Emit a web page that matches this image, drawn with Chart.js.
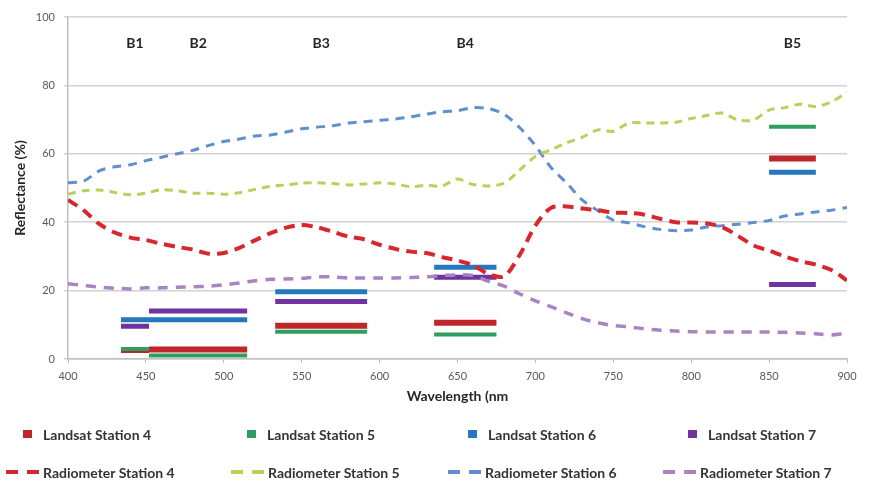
<!DOCTYPE html>
<html>
<head>
<meta charset="utf-8">
<script src="https://cdn.jsdelivr.net/npm/chart.js@4"></script>
<style>
  html, body { margin: 0; padding: 0; background: #ffffff; }
  #wrap { position: relative; width: 874px; height: 483px; overflow: hidden; }
  #chart { position: absolute; left: 0; top: 0; }
  .lg { position: absolute; display: flex; align-items: center; white-space: nowrap;
        font-family: Lato, "Liberation Sans", sans-serif; font-weight: bold; font-size: 14px; color: #333333; }
  .lg .sq { width: 9px; height: 8px; margin-right: 11px; }
  .lg .dash { display: flex; align-items: center; width: 33px; margin-right: 4px; }
  .lg .dash span { display: block; width: 12px; height: 4px; }
  .lg .dash span + span { margin-left: 9px; }
</style>
</head>
<body>
<div id="wrap">
  <canvas id="chart" width="874" height="483"></canvas>
  <div id="legend"></div>
</div>
<script>
// ---------- data ----------
const wavelengths = [400,410,420,430,440,450,460,470,480,490,500,510,520,530,540,550,560,570,580,590,600,
  610,620,630,640,650,660,670,680,690,700,710,720,730,740,750,760,770,780,790,800,810,820,830,840,850,860,870,880,890,900];

const radiometer4 = [46.5,43.5,39.5,37,35.5,34.8,33.7,32.8,32,30.8,31,32.5,34.7,36.8,38.4,39.2,38.5,37.2,35.8,35,33.4,
  32.2,31.4,31,29.8,28.8,27.4,24.8,24.2,30.5,39,44.2,44.6,44,43.5,42.8,42.7,42.2,41,40,39.9,39.6,38.5,36,33.2,31.7,30,28.6,27.6,26,23];
const radiometer5 = [48.2,49.2,49.4,48.7,48,48.5,49.5,49.2,48.5,48.5,48.2,48.6,49.6,50.5,50.9,51.4,51.5,51.3,50.9,51.2,51.5,
  51.2,50.4,50.8,50.6,52.6,51,50.6,51.4,55.3,59.2,61.2,63.2,64.8,67,66.6,69,69,69,69.2,70.3,71.2,71.9,69.9,69.9,72.8,73.5,74.5,73.8,75.2,78];
const radiometer6 = [51.5,52,55,56.2,56.8,58,59,60,61,62.4,63.6,64.3,65.2,65.5,66.4,67.3,67.8,68.2,69,69.4,69.8,
  70.2,70.8,71.6,72.3,72.6,73.5,73.2,71.5,67.6,62.4,56,51.5,46.5,43.4,40.6,39.8,38.7,37.9,37.5,37.7,38.6,39,39.4,39.9,40.5,41.8,42.4,43,43.5,44.3];
const radiometer7 = [22,21.5,21,20.7,20.5,20.8,20.8,21,21.1,21.3,21.7,22.2,22.9,23.3,23.4,23.6,24,24,23.7,23.7,23.7,
  23.7,23.8,24,24.4,24.6,24.4,22.7,21.3,19,17,15.3,13.5,11.8,10.6,9.8,9.4,8.8,8.4,8.2,8,7.9,7.9,7.9,7.9,7.9,7.8,7.6,7.4,7,7.6];

const bandNames = ['B1','B2','B3','B4','B5'];
const bandStart = [434, 452, 533, 635, 850];
const bandEnd   = [452, 515, 592, 675, 880];
const landsat4 = [2.6, 2.8, 9.7, 10.6, 58.6];
const landsat5 = [2.9, 1.0, 8.0, 7.2, 67.9];
const landsat6 = [11.5, 11.5, 19.7, 26.8, 54.6];
const landsat7 = [9.6, 14.0, 16.8, 23.9, 21.8];

const xTicks = [400,450,500,550,600,650,700,750,800,850,900];
const yTicks = [0,20,40,60,80,100];

// ---------- build ----------
function bandSegments(values) {
  const pts = [];
  values.forEach((v, i) => {
    pts.push({x: bandStart[i], y: v});
    pts.push({x: bandEnd[i], y: v});
    pts.push({x: bandEnd[i] + 0.01, y: null});
  });
  return pts;
}
function curve(values) {
  return wavelengths.map((w, i) => ({x: w, y: values[i]}));
}

const landsatStyle = (label, color, width, order, values) => ({
  label, data: bandSegments(values), borderColor: color, backgroundColor: color,
  borderWidth: width, borderCapStyle: 'butt', pointRadius: 0, spanGaps: false,
  tension: 0, order, kind: 'landsat'
});
const radioStyle = (label, color, width, dash, values) => ({
  label, data: curve(values), borderColor: color, backgroundColor: color,
  borderWidth: width, borderDash: dash, borderCapStyle: 'butt', pointRadius: 0,
  tension: 0.3, order: 1, kind: 'radio'
});

const datasets = [
  landsatStyle('Landsat Station 4', '#bf262c', 6, 3, landsat4),
  landsatStyle('Landsat Station 5', '#2e9e5e', 4, 2, landsat5),
  landsatStyle('Landsat Station 6', '#2678bd', 5, 3, landsat6),
  landsatStyle('Landsat Station 7', '#7033a0', 5, 3, landsat7),
  radioStyle('Radiometer Station 4', '#d6282c', 4, [11, 7], radiometer4),
  radioStyle('Radiometer Station 5', '#b9d05c', 3, [8, 6], radiometer5),
  radioStyle('Radiometer Station 6', '#5f8fcf', 3, [9, 7], radiometer6),
  radioStyle('Radiometer Station 7', '#a884c0', 3.5, [10, 8], radiometer7)
];

const bandLabelPlugin = {
  id: 'bandLabels',
  afterDatasetsDraw(chart, args, opts) {
    const {ctx, scales} = chart;
    ctx.save();
    ctx.font = opts.font;
    ctx.fillStyle = opts.color;
    ctx.textAlign = 'center';
    ctx.textBaseline = 'middle';
    bandNames.forEach((name, i) => {
      const x = scales.x.getPixelForValue((bandStart[i] + bandEnd[i]) / 2);
      const y = scales.y.getPixelForValue(opts.yValue);
      ctx.fillText(name, x, y);
    });
    ctx.restore();
  }
};

const tickFont = {family: 'Lato, "Liberation Sans", sans-serif', size: 11};
const chart = new Chart(document.getElementById('chart'), {
  type: 'line',
  data: {datasets},
  plugins: [bandLabelPlugin],
  options: {
    responsive: false,
    animation: false,
    devicePixelRatio: 1,
    layout: {padding: {left: 0, right: 27, top: 17, bottom: 78}},
    plugins: {
      legend: {display: false},
      tooltip: {enabled: false},
      bandLabels: {font: 'bold 14px Lato, "Liberation Sans", sans-serif', color: '#262626', yValue: 92.4}
    },
    scales: {
      x: {
        type: 'linear', min: 400, max: 900,
        afterBuildTicks(s) { s.ticks = xTicks.map(v => ({value: v})); },
        afterFit(s) { s.height = 46; },
        ticks: {color: '#595959', font: tickFont, padding: 7, maxRotation: 0},
        grid: {display: true, drawOnChartArea: false, drawTicks: true, tickLength: 4, color: '#bfbfbf', lineWidth: 1},
        border: {display: true, color: '#bfbfbf', width: 1.5},
        title: {display: true, text: 'Wavelength (nm', color: '#262626',
                font: {family: 'Lato, "Liberation Sans", sans-serif', size: 14, weight: 'bold'}, padding: {top: 0, bottom: 0}}
      },
      y: {
        type: 'linear', min: 0, max: 100,
        afterBuildTicks(s) { s.ticks = yTicks.map(v => ({value: v})); },
        afterFit(s) { s.width = 68; },
        ticks: {color: '#595959', font: tickFont, padding: 9},
        grid: {color: '#d2d2d2', lineWidth: 1.5, tickLength: 4, drawTicks: true},
        border: {display: true, color: '#bfbfbf', width: 1.5},
        title: {display: true, text: 'Reflectance (%)', color: '#262626',
                font: {family: 'Lato, "Liberation Sans", sans-serif', size: 14, weight: 'bold'}, padding: {top: 12, bottom: 0}}
      }
    }
  }
});

// ---------- HTML legend built from the chart's datasets ----------
const legend = document.getElementById('legend');
const rowCenters = [434, 472];
const rowTextLeft = [[43, 267, 488, 708], [43, 268, 485, 700]];
chart.data.datasets.forEach((ds, i) => {
  const row = ds.kind === 'landsat' ? 0 : 1;
  const col = i % 4;
  const item = document.createElement('div');
  item.className = 'lg';
  let marker;
  let mw;
  if (row === 0) {
    marker = document.createElement('div');
    marker.className = 'sq';
    marker.style.background = ds.borderColor;
    mw = 9 + 11;
  } else {
    marker = document.createElement('div');
    marker.className = 'dash';
    for (let k = 0; k < 2; k++) {
      const s = document.createElement('span');
      s.style.background = ds.borderColor;
      marker.appendChild(s);
    }
    mw = 33 + 4;
  }
  const txt = document.createElement('span');
  txt.textContent = ds.label;
  item.appendChild(marker);
  item.appendChild(txt);
  item.style.left = (rowTextLeft[row][col] - mw) + 'px';
  item.style.top = (rowCenters[row] - 10) + 'px';
  item.style.height = '20px';
  legend.appendChild(item);
});
</script>
</body>
</html>
